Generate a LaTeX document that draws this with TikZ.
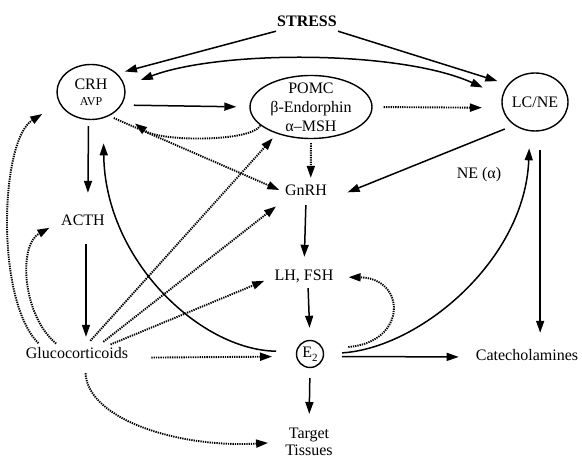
\documentclass[tikz,border=0pt]{standalone}
\usepackage{fontspec}
\setmainfont{Liberation Serif}
\usetikzlibrary{arrows.meta,shapes.geometric}

\tikzset{
    >={Triangle[length=12pt,width=8pt]},
    lbl/.style={font=\fontsize{16}{19}\selectfont, inner sep=1pt, text height=11pt, text depth=3pt},
    oval/.style={ellipse, draw, line width=1.4pt, inner sep=0pt, align=center, font=\fontsize{16}{19}\selectfont},
    arr/.style={->, line width=1.5pt},
    dots/.style={->, line width=1.9pt, dash pattern=on 1.3pt off 1pt},
}

\begin{document}
\begin{tikzpicture}[x=1pt,y=1pt]
    \useasboundingbox (0,0) rectangle (582,460);

    \node[lbl, font=\bfseries\fontsize{16}{19}\selectfont] (stress) at (307,437) {STRESS};
    \node[oval, minimum width=68, minimum height=55] (crh) at (91,368) {CRH\\[-3pt]{\fontsize{12}{12}\selectfont AVP}};
    \node[oval, minimum width=122, minimum height=63, inner xsep=2pt, inner ysep=-4pt] (pomc) at (311,353) {POMC\\β-Endorphin\\α–MSH};
    \node[oval, minimum width=66, minimum height=58] (lc) at (535,358) {LC/NE};
    \node[lbl] (gnrh) at (306,268) {GnRH};
    \node[lbl] (ne) at (479,285) {NE (α)};
    \node[lbl] (acth) at (83,238) {ACTH};
    \node[lbl] (lh) at (304,183) {LH, FSH};
    \node[lbl] (gc) at (77,105) {Glucocorticoids};
    \node[circle, draw, line width=1.4pt, inner sep=0pt, minimum size=27, font=\fontsize{16}{19}\selectfont] (e2) at (310,106) {E\raisebox{-4pt}{\fontsize{11}{11}\selectfont 2}};
    \node[lbl] (cat) at (527,103) {Catecholamines};
    \node[font=\fontsize{16}{17}\selectfont, align=center, inner sep=1pt] (tt) at (309,18) {Target\\Tissues};

    \path[arr] (stress.south west) edge[shorten >=8pt] (crh.35);
    \path[arr] (stress.south east) edge[shorten >=11pt] (lc.147);
    \draw[<->, line width=1.5pt, shorten <=17pt, shorten >=21pt] (crh.10) .. controls (220,410) and (400,410) .. (lc.170);
    \path[arr] (crh.-23) edge[shorten <=12pt, shorten >=13pt] (pomc.west);
    \path[dots] (pomc.east) edge[shorten <=11pt, shorten >=20pt] (lc.190);
    \draw[dots, shorten >=22pt] (pomc.200) .. controls (252,318) and (160,318) .. (crh.-35);
    \path[dots] (crh.-53) edge[shorten <=5pt, shorten >=5pt] (gnrh.west);
    \path[dots] (pomc.south) edge[shorten <=4pt, shorten >=6pt] (gnrh.60);
    \path[arr] (lc.228) edge[shorten <=10pt, shorten >=21pt] (gnrh.south east);
    \path[arr] (crh.-95) edge[shorten <=6pt, shorten >=21pt] (acth.60);
    \draw[arr, shorten <=20pt, shorten >=25pt] (e2.170) .. controls (200,110) and (105,200) .. (crh.-65);
    \path[arr] (acth.-70) edge[shorten <=14pt, shorten >=10pt] (gc.north -| acth.-70);
    \draw[dots, shorten <=5pt, shorten >=12pt] ([xshift=-17pt]gc.north) .. controls (22,145) and (18,215) .. (acth.west);
    \draw[dots, shorten <=5pt, shorten >=20pt] ([xshift=-35pt]gc.north) .. controls (-5,160) and (0,320) .. (crh.200);
    \path[dots] ([xshift=8pt]gc.north) edge[shorten <=8pt, shorten >=6pt] (pomc.218);
    \path[dots] ([xshift=20pt]gc.north) edge[shorten <=8pt, shorten >=10pt] (gnrh.south west);
    \path[dots] ([xshift=28pt]gc.north) edge[shorten <=6pt, shorten >=10pt] (lh.west);
    \path[dots] (gc.-3) edge[shorten <=22pt, shorten >=24pt] (e2.190);
    \draw[dots, shorten <=10pt, shorten >=16pt] ([xshift=8pt]gc.south) .. controls (88,40) and (180,12) .. (tt.west);
    \path[arr] (gnrh.south) edge[shorten <=5pt, shorten >=12pt] (lh.north);
    \path[arr] ([xshift=4pt]lh.south) edge[shorten <=3pt, shorten >=12pt] (e2.north);
    \path[arr] (e2.south) edge[shorten <=10pt, shorten >=13pt] (tt.north);
    \draw[dots, shorten <=25pt, shorten >=14pt] (e2.20) .. controls (408,118) and (406,182) .. (lh.east);
    \draw[arr, shorten <=18pt, shorten >=17pt] (e2.east) .. controls (420,112) and (525,200) .. (lc.-100);
    \path[arr] (e2.-10) edge[shorten <=18pt, shorten >=16pt] (cat.west);
    \path[arr] (lc.-80) edge[shorten <=19pt, shorten >=16pt] (lc.-80 |- cat.north);

\end{tikzpicture}
\end{document}
